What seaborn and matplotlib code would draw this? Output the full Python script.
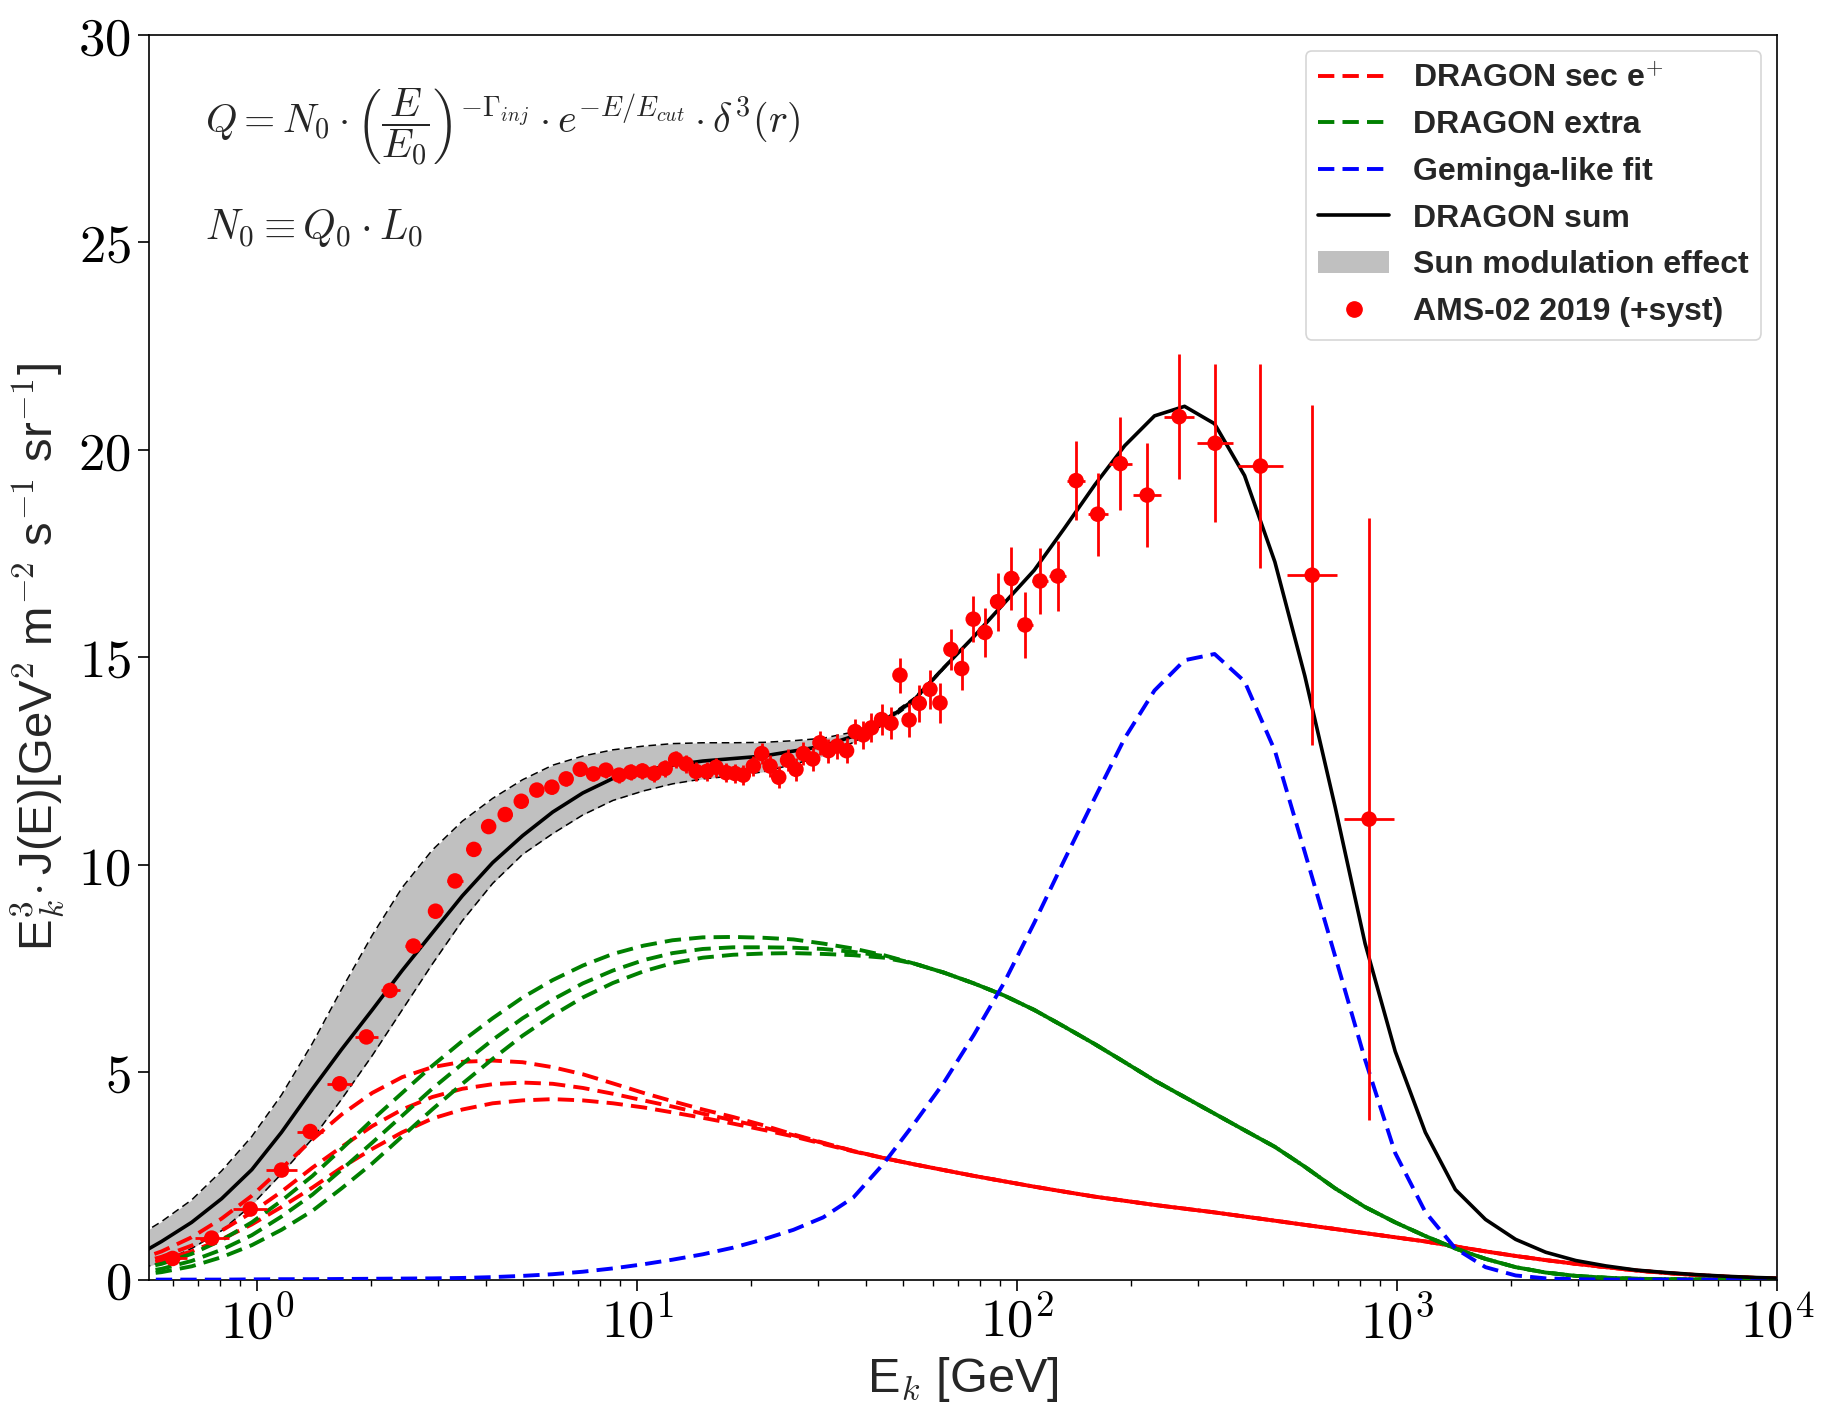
import numpy as np
import matplotlib
matplotlib.use("Agg")
import matplotlib.pyplot as plt
import seaborn as sns
from matplotlib.lines import Line2D
from matplotlib.patches import Patch
from matplotlib.ticker import FixedLocator, FuncFormatter, LogLocator, NullFormatter

# ---------------- model energy grid [GeV] ----------------
E_model = [0.467, 0.561, 0.673, 0.807, 0.969, 1.16, 1.40, 1.67, 2.01, 2.41,
           2.89, 3.47, 4.17, 5.00, 6.00, 7.20, 8.64, 10.4, 12.4, 14.9,
           17.9, 21.5, 25.8, 30.9, 37.1, 44.6, 53.5, 64.2, 77.0, 92.4,
           111, 133, 160, 192, 230, 276, 331, 397, 477, 572,
           687, 824, 989, 1187, 1424, 1709, 2051, 2461, 2953, 3544,
           4253, 5103, 6124, 7349, 8819, 10583]

# DRAGON sum (black)
dragon_sum = [0.50, 0.92, 1.38, 1.95, 2.65, 3.55, 4.60, 5.55, 6.50, 7.45,
              8.35, 9.25, 10.05, 10.70, 11.27, 11.73, 12.08, 12.27, 12.40, 12.50,
              12.56, 12.62, 12.74, 12.86, 13.10, 13.45, 13.97, 14.75, 15.50, 16.30,
              17.10, 18.10, 19.15, 20.10, 20.82, 21.05, 20.63, 19.38, 17.30, 14.55,
              11.40, 8.10, 5.50, 3.55, 2.17, 1.45, 0.97, 0.66, 0.46, 0.33,
              0.23, 0.17, 0.12, 0.08, 0.05, 0.03]

# Sun modulation band
band_upper = [0.95, 1.40, 1.92, 2.62, 3.45, 4.45, 5.70, 7.00, 8.30, 9.45,
              10.35, 11.05, 11.60, 12.05, 12.40, 12.62, 12.77, 12.86, 12.92, 12.94,
              12.94, 12.95, 12.99, 13.05, 13.20, 13.50, 14.02, 14.78, 15.50, 16.30,
              17.10, 18.10, 19.15, 20.10, 20.82, 21.05, 20.63, 19.38, 17.30, 14.55,
              11.40, 8.10, 5.50, 3.55, 2.17, 1.45, 0.97, 0.66, 0.46, 0.33,
              0.23, 0.17, 0.12, 0.08, 0.05, 0.03]
band_lower = [0.20, 0.42, 0.75, 1.18, 1.80, 2.55, 3.40, 4.35, 5.40, 6.50,
              7.60, 8.65, 9.55, 10.25, 10.75, 11.20, 11.55, 11.78, 11.95, 12.07,
              12.14, 12.24, 12.42, 12.62, 12.95, 13.38, 13.92, 14.72, 15.50, 16.30,
              17.10, 18.10, 19.15, 20.10, 20.82, 21.05, 20.63, 19.38, 17.30, 14.55,
              11.40, 8.10, 5.50, 3.55, 2.17, 1.45, 0.97, 0.66, 0.46, 0.33,
              0.23, 0.17, 0.12, 0.08, 0.05, 0.03]

# DRAGON secondary e+ (three modulation levels)
sec_high = [0.42, 0.68, 1.02, 1.47, 2.02, 2.68, 3.38, 3.98, 4.50, 4.88,
            5.12, 5.25, 5.28, 5.24, 5.12, 4.95, 4.73, 4.50, 4.30, 4.10,
            3.92, 3.72, 3.50, 3.30, 3.10, 2.93, 2.78, 2.64, 2.50, 2.37,
            2.24, 2.12, 2.00, 1.90, 1.80, 1.71, 1.62, 1.52, 1.42, 1.32,
            1.22, 1.12, 1.02, 0.92, 0.80, 0.68, 0.57, 0.47, 0.38, 0.30,
            0.22, 0.16, 0.11, 0.07, 0.04, 0.02]
sec_mid = [0.35, 0.55, 0.82, 1.18, 1.62, 2.12, 2.70, 3.20, 3.70, 4.10,
           4.40, 4.60, 4.71, 4.75, 4.72, 4.62, 4.48, 4.32, 4.17, 4.00,
           3.84, 3.67, 3.48, 3.29, 3.10, 2.93, 2.78, 2.64, 2.50, 2.37,
           2.24, 2.12, 2.00, 1.90, 1.80, 1.71, 1.62, 1.52, 1.42, 1.32,
           1.22, 1.12, 1.02, 0.92, 0.80, 0.68, 0.57, 0.47, 0.38, 0.30,
           0.22, 0.16, 0.11, 0.07, 0.04, 0.02]
sec_low = [0.30, 0.46, 0.68, 0.97, 1.33, 1.75, 2.22, 2.70, 3.15, 3.55,
           3.88, 4.10, 4.25, 4.32, 4.35, 4.32, 4.25, 4.15, 4.03, 3.90,
           3.76, 3.61, 3.45, 3.27, 3.09, 2.93, 2.78, 2.64, 2.50, 2.37,
           2.24, 2.12, 2.00, 1.90, 1.80, 1.71, 1.62, 1.52, 1.42, 1.32,
           1.22, 1.12, 1.02, 0.92, 0.80, 0.68, 0.57, 0.47, 0.38, 0.30,
           0.22, 0.16, 0.11, 0.07, 0.04, 0.02]

# DRAGON extra component (three modulation levels)
extra_high = [0.22, 0.38, 0.62, 0.95, 1.38, 1.90, 2.50, 3.15, 3.85, 4.50,
              5.15, 5.75, 6.30, 6.80, 7.22, 7.57, 7.85, 8.05, 8.18, 8.25,
              8.26, 8.24, 8.20, 8.10, 7.98, 7.82, 7.62, 7.40, 7.14, 6.85,
              6.50, 6.10, 5.68, 5.24, 4.80, 4.40, 4.00, 3.60, 3.20, 2.72,
              2.20, 1.75, 1.38, 1.05, 0.75, 0.50, 0.30, 0.17, 0.09, 0.045,
              0.02, 0.01, 0.005, 0.0, 0.0, 0.0]
extra_mid = [0.14, 0.26, 0.45, 0.72, 1.07, 1.52, 2.05, 2.65, 3.30, 3.95,
             4.60, 5.20, 5.78, 6.30, 6.75, 7.14, 7.45, 7.70, 7.87, 7.97,
             8.01, 8.01, 8.00, 7.97, 7.90, 7.80, 7.62, 7.40, 7.14, 6.85,
             6.50, 6.10, 5.68, 5.24, 4.80, 4.40, 4.00, 3.60, 3.20, 2.72,
             2.20, 1.75, 1.38, 1.05, 0.75, 0.50, 0.30, 0.17, 0.09, 0.045,
             0.02, 0.01, 0.005, 0.0, 0.0, 0.0]
extra_low = [0.09, 0.18, 0.32, 0.54, 0.83, 1.20, 1.66, 2.20, 2.80, 3.45,
             4.10, 4.72, 5.32, 5.88, 6.37, 6.80, 7.15, 7.43, 7.63, 7.76,
             7.83, 7.86, 7.87, 7.85, 7.82, 7.76, 7.62, 7.40, 7.14, 6.85,
             6.50, 6.10, 5.68, 5.24, 4.80, 4.40, 4.00, 3.60, 3.20, 2.72,
             2.20, 1.75, 1.38, 1.05, 0.75, 0.50, 0.30, 0.17, 0.09, 0.045,
             0.02, 0.01, 0.005, 0.0, 0.0, 0.0]

# Geminga-like pulsar fit
geminga = [0.0, 0.0, 0.0, 0.0, 0.005, 0.01, 0.01, 0.015, 0.02, 0.025,
           0.03, 0.04, 0.06, 0.09, 0.13, 0.19, 0.27, 0.37, 0.48, 0.61,
           0.77, 0.97, 1.20, 1.50, 1.98, 2.80, 3.75, 4.75, 5.90, 7.15,
           8.60, 10.10, 11.60, 13.05, 14.20, 14.93, 15.08, 14.42, 12.75, 10.30,
           7.80, 5.30, 3.05, 1.63, 0.75, 0.30, 0.10, 0.03, 0.01, 0.0,
           0.0, 0.0, 0.0, 0.0, 0.0, 0.0]

# ---------------- AMS-02 2019 positron data ----------------
ams_E = [0.60, 0.76, 0.96, 1.16, 1.38, 1.65, 1.94, 2.24, 2.58, 2.95,
         3.32, 3.72, 4.07, 4.50, 4.96, 5.45, 5.97, 6.51, 7.09, 7.68,
         8.28, 8.97, 9.63, 10.33, 11.09, 11.86, 12.64, 13.46, 14.30, 15.26,
         16.15, 17.16, 18.11, 19.04, 20.24, 21.29, 22.4, 23.6, 24.9, 26.2,
         27.4, 29.0, 30.3, 31.9, 33.6, 35.6, 37.5, 39.4, 41.4, 44.0,
         46.6, 49.2, 52.0, 55.3, 59.0, 62.7, 67.0, 71.5, 76.7, 82.3,
         88.9, 96.7, 105, 115, 128, 143, 163, 187, 220, 267,
         332, 437, 598, 844]
ams_flux = [0.51, 1.00, 1.70, 2.64, 3.57, 4.72, 5.85, 6.97, 8.04, 8.88,
            9.61, 10.37, 10.92, 11.21, 11.53, 11.80, 11.87, 12.07, 12.30, 12.19,
            12.28, 12.16, 12.23, 12.26, 12.20, 12.32, 12.54, 12.43, 12.25, 12.25,
            12.35, 12.22, 12.20, 12.16, 12.38, 12.68, 12.38, 12.11, 12.52, 12.30,
            12.68, 12.55, 12.94, 12.75, 12.86, 12.75, 13.21, 13.13, 13.30, 13.50,
            13.41, 14.57, 13.49, 13.89, 14.23, 13.90, 15.19, 14.73, 15.92, 15.60,
            16.34, 16.90, 15.78, 16.84, 16.96, 19.26, 18.45, 19.67, 18.91, 20.80,
            20.16, 19.61, 16.98, 11.10]
ams_err = [0.05, 0.05, 0.06, 0.07, 0.08, 0.09, 0.10, 0.11, 0.12, 0.12,
           0.13, 0.13, 0.14, 0.14, 0.15, 0.15, 0.16, 0.16, 0.17, 0.17,
           0.18, 0.18, 0.19, 0.19, 0.20, 0.20, 0.21, 0.21, 0.22, 0.22,
           0.23, 0.23, 0.24, 0.24, 0.25, 0.25, 0.26, 0.26, 0.27, 0.27,
           0.28, 0.28, 0.29, 0.29, 0.30, 0.30, 0.31, 0.33, 0.35, 0.37,
           0.39, 0.42, 0.42, 0.44, 0.47, 0.48, 0.50, 0.52, 0.55, 0.60,
           0.70, 0.75, 0.80, 0.80, 0.85, 0.95, 1.00, 1.12, 1.25, 1.50,
           1.90, 2.45, 4.10, 7.25]
# half bin width in decades
ams_halfbin_dex = [0.038, 0.045, 0.045, 0.040, 0.035, 0.032, 0.030, 0.025, 0.022, 0.020,
                   0.020, 0.020, 0.018, 0.018, 0.018, 0.017, 0.017, 0.016, 0.016, 0.016,
                   0.015, 0.015, 0.015, 0.015, 0.015, 0.015, 0.015, 0.015, 0.015, 0.015,
                   0.015, 0.015, 0.015, 0.015, 0.015, 0.015, 0.015, 0.015, 0.015, 0.015,
                   0.015, 0.015, 0.015, 0.015, 0.015, 0.015, 0.015, 0.015, 0.015, 0.015,
                   0.015, 0.015, 0.015, 0.015, 0.015, 0.015, 0.016, 0.016, 0.017, 0.018,
                   0.019, 0.020, 0.021, 0.022, 0.022, 0.023, 0.026, 0.030, 0.037, 0.040,
                   0.048, 0.059, 0.066, 0.066]

x_ticks = [1e0, 1e1, 1e2, 1e3, 1e4]
y_ticks = [0, 5, 10, 15, 20, 25, 30]

legend_labels = [r"DRAGON sec e$^{+}$", "DRAGON extra", "Geminga-like fit",
                 "DRAGON sum", "Sun modulation effect", "AMS-02 2019 (+syst)"]

formula_1 = (r"$Q = N_0 \cdot \left(\dfrac{E}{E_0}\right)^{-\Gamma_{inj}}"
             r" \cdot e^{-E/E_{cut}} \cdot \delta^3(r)$")
formula_2 = r"$N_0 \equiv Q_0 \cdot L_0$"

# ---------------- style ----------------
sns.set_theme(style="ticks")
plt.rcParams["font.family"] = ["Liberation Sans", "DejaVu Sans"]
plt.rcParams["mathtext.fontset"] = "cm"
plt.rcParams["axes.edgecolor"] = "black"
plt.rcParams["xtick.color"] = "black"
plt.rcParams["ytick.color"] = "black"
plt.rcParams["axes.linewidth"] = 1.2

fig = plt.figure(figsize=(18.29, 14.24), dpi=100)
ax = fig.add_axes([0.0815, 0.1014, 0.8901, 0.874])
ax.set_xscale("log")

DASH = (0, (4.2, 2.1))
LW = 2.8

# band
ax.fill_between(E_model, band_lower, band_upper, color="#c0c0c0", lw=0, zorder=1)
for b in (band_upper, band_lower):
    sns.lineplot(x=E_model, y=b, ax=ax, color="black", lw=1.1, ls=(0, (5, 3)),
                 estimator=None, sort=False, legend=False, zorder=2)

# components
for s in (sec_high, sec_mid, sec_low):
    sns.lineplot(x=E_model, y=s, ax=ax, color="red", lw=LW, ls=DASH,
                 estimator=None, sort=False, legend=False, zorder=3)
for s in (extra_high, extra_mid, extra_low):
    sns.lineplot(x=E_model, y=s, ax=ax, color="green", lw=LW, ls=DASH,
                 estimator=None, sort=False, legend=False, zorder=3)
sns.lineplot(x=E_model, y=geminga, ax=ax, color="blue", lw=LW, ls=DASH,
             estimator=None, sort=False, legend=False, zorder=3)
sns.lineplot(x=E_model, y=dragon_sum, ax=ax, color="black", lw=2.6,
             estimator=None, sort=False, legend=False, zorder=4)

# data
E_arr = np.array(ams_E)
d_arr = np.array(ams_halfbin_dex)
x_lo = E_arr - E_arr / 10 ** d_arr
x_hi = E_arr * 10 ** d_arr - E_arr
ax.errorbar(ams_E, ams_flux, yerr=ams_err, xerr=[x_lo, x_hi], fmt="none",
            ecolor="red", elinewidth=2.0, capsize=0, zorder=5)
sns.scatterplot(x=ams_E, y=ams_flux, ax=ax, color="red", s=125, edgecolor="none",
                legend=False, zorder=6)

# axes
ax.set_xlim(0.52, 1e4)
ax.set_ylim(0, 30)
ax.xaxis.set_major_locator(FixedLocator(x_ticks))
ax.xaxis.set_major_formatter(FuncFormatter(lambda v, p: r"$10^{%d}$" % round(np.log10(v))))
ax.xaxis.set_minor_locator(LogLocator(base=10, subs=np.arange(2, 10) * 1.0, numticks=100))
ax.xaxis.set_minor_formatter(NullFormatter())
ax.yaxis.set_major_locator(FixedLocator(y_ticks))
ax.yaxis.set_major_formatter(FuncFormatter(lambda v, p: r"$%d$" % v))
ax.tick_params(which="major", length=8, width=1.2, labelsize=38, direction="out", pad=5,
               top=False, right=False)
ax.tick_params(which="minor", length=4, width=1.0, direction="out", top=False, right=False)
for sp in ax.spines.values():
    sp.set_visible(True)
    sp.set_color("black")
    sp.set_linewidth(1.2)

ax.set_xlabel(r"E$_k$ [GeV]", fontsize=35, labelpad=4)
ax.set_ylabel(r"E$_k^3\!\cdot$J(E)[GeV$^2$ m$^{-2}$ s$^{-1}$ sr$^{-1}$]", fontsize=34, labelpad=8)

ax.text(0.0344, 0.9265, formula_1, transform=ax.transAxes, fontsize=29,
        ha="left", va="center")
ax.text(0.0344, 0.8453, formula_2, transform=ax.transAxes, fontsize=30,
        ha="left", va="center")

handles = [
    Line2D([], [], color="red", lw=LW, ls=DASH),
    Line2D([], [], color="green", lw=LW, ls=DASH),
    Line2D([], [], color="blue", lw=LW, ls=DASH),
    Line2D([], [], color="black", lw=2.6),
    Patch(facecolor="#c0c0c0", edgecolor="none"),
    Line2D([], [], color="red", marker="o", ls="none", markersize=11),
]
leg = ax.legend(handles, legend_labels, loc="upper right",
                prop={"weight": "bold", "size": 23, "family": ["Liberation Sans", "DejaVu Sans"]},
                handlelength=2.2, handletextpad=0.75, labelspacing=0.52,
                borderpad=0.4, borderaxespad=0.5, frameon=True, fancybox=True)
leg.get_frame().set_edgecolor("#cccccc")
leg.get_frame().set_linewidth(1.2)

fig.savefig("out.png", dpi=100, facecolor="white")
